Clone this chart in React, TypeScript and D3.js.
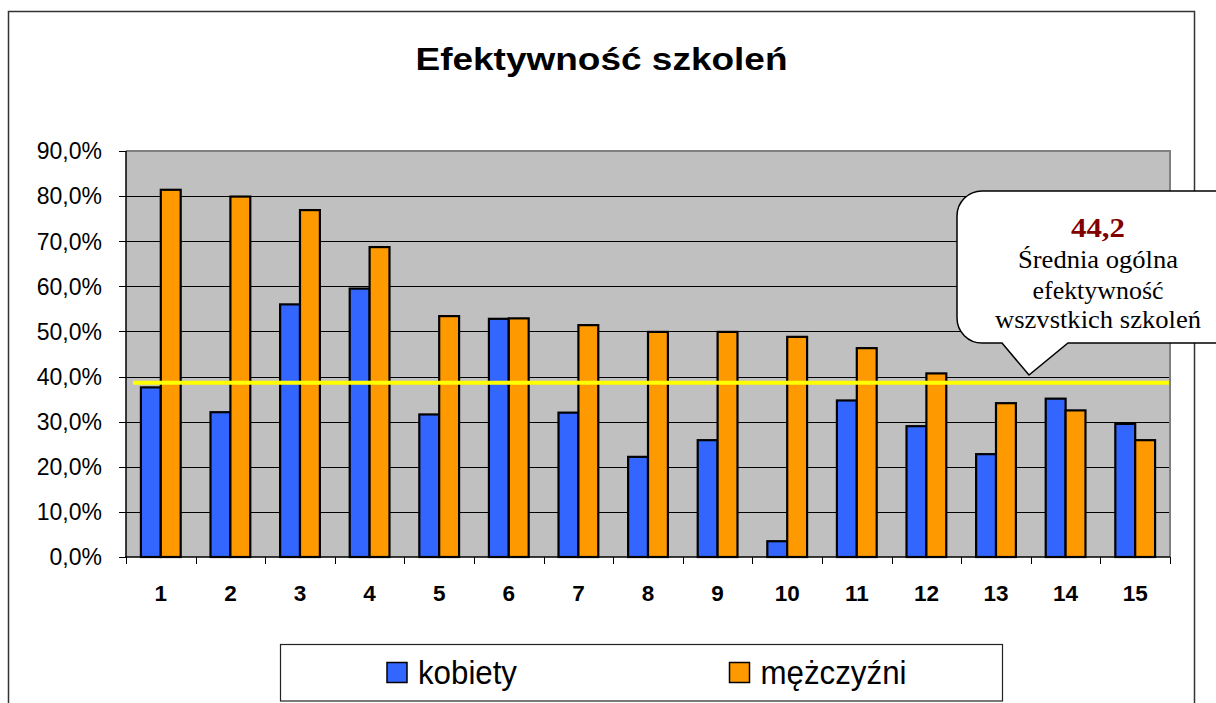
import React, { useRef, useEffect } from 'react';
import * as d3 from 'd3';

// values (share of 1)
const categories = ['1', '2', '3', '4', '5', '6', '7', '8', '9', '10', '11', '12', '13', '14', '15'];
const kobiety = [0.376, 0.321, 0.56, 0.595, 0.316, 0.528, 0.32, 0.222, 0.259, 0.035, 0.347, 0.29, 0.228, 0.351, 0.295];
const mezczyzni = [0.814, 0.799, 0.769, 0.687, 0.534, 0.529, 0.514, 0.499, 0.499, 0.488, 0.463, 0.407, 0.341, 0.325, 0.259];
const seriesNames = ['kobiety', 'mężczyźni'];
const seriesColors = ['#3366FF', '#FF9900'];
const yTickValues = [0, 0.1, 0.2, 0.3, 0.4, 0.5, 0.6, 0.7, 0.8, 0.9];
const averageLevel = 0.386;
const calloutValue = '44,2';
const calloutLines = ['Średnia ogólna', 'efektywność', 'wszvstkich szkoleń'];
const chartTitle = 'Efektywność szkoleń';

function App() {
    const svgRef = useRef<SVGSVGElement | null>(null);

    useEffect(() => {
        document.body.style.margin = '0';
        document.body.style.overflow = 'hidden';

        const width = 1216;
        const height = 703;
        const plot = { left: 126, right: 1170, top: 151, bottom: 557 };
        const sans = '"Liberation Sans", Arial, sans-serif';
        const serif = '"Liberation Serif", "Times New Roman", serif';

        const svg = d3.select(svgRef.current);
        svg.selectAll('*').remove();
        svg.attr('width', width).attr('height', height);

        svg.append('rect')
            .attr('width', width).attr('height', height)
            .attr('fill', 'white');

        // outer chart frame (runs off the bottom of the page)
        svg.append('rect')
            .attr('x', 8.5).attr('y', 11.5)
            .attr('width', 1186).attr('height', 740)
            .attr('fill', 'white')
            .attr('stroke', '#333').attr('stroke-width', 1.5);

        svg.append('text')
            .attr('x', 601.5).attr('y', 70)
            .attr('text-anchor', 'middle')
            .attr('font-family', sans).attr('font-weight', 'bold')
            .attr('font-size', 32)
            .attr('textLength', 372).attr('lengthAdjust', 'spacingAndGlyphs')
            .text(chartTitle);

        const x = d3.scaleBand()
            .domain(categories)
            .range([plot.left, plot.right])
            .padding(0);

        const y = d3.scaleLinear()
            .domain([0, 0.9])
            .range([plot.bottom, plot.top]);

        const barW = x.bandwidth() / 3.5;
        const groupOffset = (x.bandwidth() - 2 * barW) / 2;

        svg.append('rect')
            .attr('x', plot.left).attr('y', plot.top)
            .attr('width', plot.right - plot.left)
            .attr('height', plot.bottom - plot.top)
            .attr('fill', '#C0C0C0');

        // gridlines
        svg.append('g')
            .selectAll('line')
            .data(yTickValues.filter(t => t > 0 && t < 0.9))
            .join('line')
            .attr('x1', plot.left).attr('x2', plot.right)
            .attr('y1', d => Math.round(y(d)) + 0.5)
            .attr('y2', d => Math.round(y(d)) + 0.5)
            .attr('stroke', '#000').attr('stroke-width', 1);

        // plot border top / right
        svg.append('path')
            .attr('d', `M${plot.left},${plot.top} H${plot.right} V${plot.bottom}`)
            .attr('fill', 'none')
            .attr('stroke', '#808080').attr('stroke-width', 2);

        const series = [kobiety, mezczyzni];
        series.forEach((values, si) => {
            svg.append('g')
                .selectAll('rect')
                .data(values)
                .join('rect')
                .attr('x', (d, i) => (x(categories[i]) as number) + groupOffset + si * barW)
                .attr('y', d => y(d))
                .attr('width', barW)
                .attr('height', d => plot.bottom - y(d))
                .attr('fill', seriesColors[si])
                .attr('stroke', '#000').attr('stroke-width', 2.2);
        });

        // average line
        svg.append('line')
            .attr('x1', 133).attr('x2', 1169)
            .attr('y1', y(averageLevel)).attr('y2', y(averageLevel))
            .attr('stroke', '#FFFF00').attr('stroke-width', 4);

        // axes
        svg.append('line')
            .attr('x1', plot.left).attr('x2', plot.left)
            .attr('y1', plot.top).attr('y2', plot.bottom)
            .attr('stroke', '#000').attr('stroke-width', 1.5);
        svg.append('line')
            .attr('x1', plot.left - 1).attr('x2', plot.right)
            .attr('y1', plot.bottom).attr('y2', plot.bottom)
            .attr('stroke', '#000').attr('stroke-width', 1.5);

        const yAxis = svg.append('g');
        yAxis.selectAll('line')
            .data(yTickValues)
            .join('line')
            .attr('x1', plot.left - 7).attr('x2', plot.left)
            .attr('y1', d => Math.round(y(d)) + 0.5)
            .attr('y2', d => Math.round(y(d)) + 0.5)
            .attr('stroke', '#000').attr('stroke-width', 1);
        yAxis.selectAll('text')
            .data(yTickValues)
            .join('text')
            .attr('x', 102)
            .attr('y', d => y(d))
            .attr('dy', '0.36em')
            .attr('text-anchor', 'end')
            .attr('font-family', sans).attr('font-size', 23)
            .text(d => (d * 100).toFixed(1).replace('.', ',') + '%');

        const xAxis = svg.append('g');
        const edges = categories.map(c => x(c) as number).concat([plot.right]);
        xAxis.selectAll('line')
            .data(edges)
            .join('line')
            .attr('x1', d => Math.round(d) + 0.5).attr('x2', d => Math.round(d) + 0.5)
            .attr('y1', plot.bottom).attr('y2', plot.bottom + 7)
            .attr('stroke', '#000').attr('stroke-width', 1);
        xAxis.selectAll('text')
            .data(categories)
            .join('text')
            .attr('x', d => (x(d) as number) + x.bandwidth() / 2)
            .attr('y', 600.5)
            .attr('text-anchor', 'middle')
            .attr('font-family', sans).attr('font-weight', 'bold')
            .attr('font-size', 22.5)
            .text(d => d);

        // callout
        const r = 25;
        const bx0 = 957, bx1 = 1239, by0 = 191, by1 = 343;
        const callout = d3.path();
        callout.moveTo(bx0 + r, by0);
        callout.lineTo(bx1 - r, by0);
        callout.arcTo(bx1, by0, bx1, by0 + r, r);
        callout.lineTo(bx1, by1 - r);
        callout.arcTo(bx1, by1, bx1 - r, by1, r);
        callout.lineTo(1068, by1);
        callout.lineTo(1029, 375);
        callout.lineTo(1002, by1);
        callout.lineTo(bx0 + r, by1);
        callout.arcTo(bx0, by1, bx0, by1 - r, r);
        callout.lineTo(bx0, by0 + r);
        callout.arcTo(bx0, by0, bx0 + r, by0, r);
        callout.closePath();
        svg.append('path')
            .attr('d', callout.toString())
            .attr('fill', 'white')
            .attr('stroke', '#000').attr('stroke-width', 1.5);

        svg.append('text')
            .attr('x', 1098).attr('y', 236.5)
            .attr('text-anchor', 'middle')
            .attr('font-family', serif).attr('font-weight', 'bold')
            .attr('font-size', 28).attr('fill', '#800000')
            .attr('textLength', 54).attr('lengthAdjust', 'spacingAndGlyphs')
            .text(calloutValue);

        const lineWidths = [160, 131, 206];
        const lineY = [268.3, 299.3, 328.3];
        calloutLines.forEach((t, i) => {
            svg.append('text')
                .attr('x', 1098).attr('y', lineY[i])
                .attr('text-anchor', 'middle')
                .attr('font-family', serif).attr('font-size', 25)
                .attr('textLength', lineWidths[i]).attr('lengthAdjust', 'spacingAndGlyphs')
                .text(t);
        });

        // legend
        svg.append('rect')
            .attr('x', 280.5).attr('y', 644.5)
            .attr('width', 722).attr('height', 56.5)
            .attr('fill', 'white')
            .attr('stroke', '#222').attr('stroke-width', 1.2);

        const legendX = [387, 729.5];
        const legendW = [99, 146];
        seriesNames.forEach((name, i) => {
            svg.append('rect')
                .attr('x', legendX[i]).attr('y', 662.5)
                .attr('width', 20).attr('height', 20)
                .attr('fill', seriesColors[i])
                .attr('stroke', '#000').attr('stroke-width', 1.5);
            svg.append('text')
                .attr('x', legendX[i] + 31).attr('y', 683.5)
                .attr('font-family', sans).attr('font-size', 33)
                .attr('textLength', legendW[i]).attr('lengthAdjust', 'spacingAndGlyphs')
                .text(name);
        });
    }, []);

    return <svg ref={svgRef} style={{ display: 'block' }}></svg>;
}

export default App;
